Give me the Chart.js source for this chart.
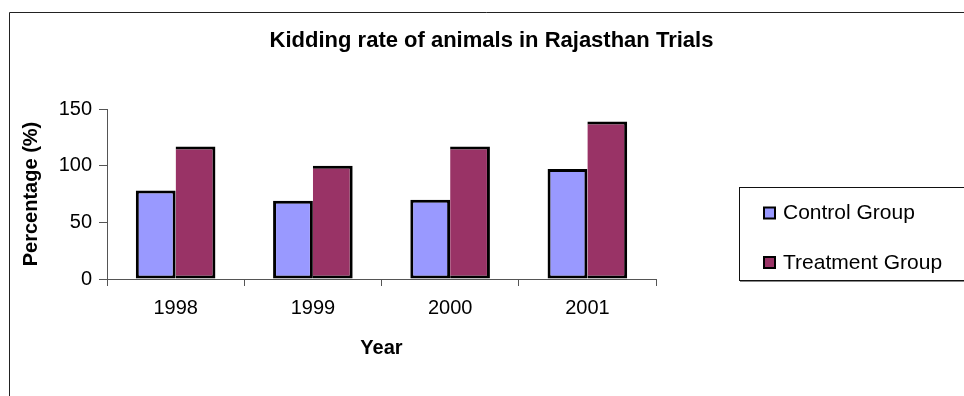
<!DOCTYPE html>
<html>
<head>
<meta charset="utf-8">
<title>Kidding rate</title>
<script src="https://cdn.jsdelivr.net/npm/chart.js@4"></script>
<style>
  html, body { margin: 0; padding: 0; background: #fff; }
  #wrap { width: 964px; height: 396px; }
</style>
</head>
<body>
<div id="wrap"><canvas id="kidding" width="964" height="396"></canvas></div>
<script>
var years = ["1998", "1999", "2000", "2001"];
var controlGroup = [78, 69, 70, 97];
var treatmentGroup = [117, 100, 117, 139];
var yTicks = [0, 50, 100, 150];

var font = "'Liberation Sans', Arial, sans-serif";

// frame round the whole chart and the boxed legend on the right
var framePlugin = {
  id: "frame",
  afterDraw: function(chart) {
    var ctx = chart.ctx;
    ctx.save();
    ctx.strokeStyle = "#222";
    ctx.lineWidth = 1;
    ctx.beginPath();
    ctx.moveTo(9.5, 396);
    ctx.lineTo(9.5, 12.5);
    ctx.lineTo(964, 12.5);
    ctx.stroke();

    // legend box
    ctx.strokeStyle = "#111";
    ctx.strokeRect(739.5, 187.5, 240, 93);
    ctx.strokeStyle = "#888";
    ctx.beginPath();
    ctx.moveTo(740, 281.5);
    ctx.lineTo(964, 281.5);
    ctx.stroke();

    ctx.font = "21px " + font;
    ctx.textBaseline = "middle";
    ctx.textAlign = "left";
    var rows = [212.5, 262];
    chart.data.datasets.forEach(function(ds, i) {
      var y = rows[i];
      ctx.fillStyle = ds.backgroundColor;
      ctx.fillRect(764, y - 5, 11, 11);
      ctx.strokeStyle = "#000";
      ctx.lineWidth = 2;
      ctx.strokeRect(764, y - 5, 11, 11);
      ctx.fillStyle = "#000";
      ctx.fillText(ds.label, 783, y + 1);
    });
    ctx.restore();
  }
};

var barData = {
  labels: years,
  datasets: [
    {
      label: "Control Group",
      backgroundColor: "#9999FF",
      borderColor: "#000",
      borderWidth: 3,
      borderSkipped: false,
      data: controlGroup
    },
    {
      label: "Treatment Group",
      backgroundColor: "#993366",
      borderColor: "#000",
      borderWidth: 3,
      borderSkipped: "left",
      data: treatmentGroup
    }
  ]
};

var chartOptions = {
  responsive: false,
  animation: false,
  layout: { padding: { left: 19, top: 0, right: 0, bottom: 36 } },
  categoryPercentage: 0.58,
  barPercentage: 1.0,
  plugins: {
    legend: { display: false },
    tooltip: { enabled: false },
    title: {
      display: true,
      text: "Kidding rate of animals in Rajasthan Trials",
      color: "#000",
      font: { family: font, size: 22, weight: "bold", lineHeight: 1.2 },
      padding: { top: 28, bottom: 54.6 }
    }
  },
  scales: {
    x: {
      grid: { drawOnChartArea: false, color: "#555", tickLength: 7 },
      border: { color: "#555" },
      ticks: { color: "#000", font: { family: font, size: 20 }, padding: 10, maxRotation: 0 },
      title: {
        display: true,
        text: "Year",
        color: "#000",
        font: { family: font, size: 20, weight: "bold", lineHeight: 1.2 },
        padding: 0
      },
      afterFit: function(s) { s.height = 81; }
    },
    y: {
      min: 0,
      max: 150,
      afterBuildTicks: function(s) {
        s.ticks = yTicks.map(function(v) { return { value: v }; });
      },
      grid: { drawOnChartArea: false, color: "#555", tickLength: 8 },
      border: { color: "#555" },
      ticks: { color: "#000", font: { family: font, size: 20 }, padding: 7 },
      title: {
        display: true,
        text: "Percentage (%)",
        color: "#000",
        font: { family: font, size: 20, weight: "bold", lineHeight: 1.2 },
        padding: 0
      },
      afterFit: function(s) { s.width = 88; }
    },
    // empty axis that keeps room free for the legend box
    side: {
      position: "right",
      display: true,
      grid: { display: false },
      border: { display: false },
      ticks: { display: false },
      afterFit: function(s) { s.width = 308; }
    }
  }
};

new Chart(document.getElementById("kidding").getContext("2d"), {
  type: "bar",
  data: barData,
  options: chartOptions,
  plugins: [framePlugin]
});
</script>
</body>
</html>
